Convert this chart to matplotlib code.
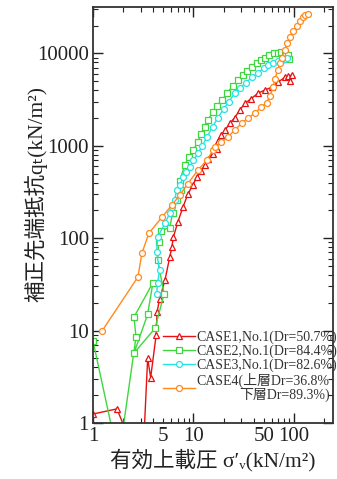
import numpy as np
import matplotlib
matplotlib.use("Agg")
import matplotlib.pyplot as plt
from matplotlib.ticker import FixedLocator, FixedFormatter, LogLocator, NullFormatter

plt.rcParams["font.family"] = ["Liberation Serif", "Noto Sans CJK JP", "DejaVu Sans"]

# effective overburden pressure (kN/m2) and corrected tip resistance qt (kN/m2)
case1_sv = [1.0, 1.73, 3.1, 3.5, 3.75, 4.25, 4.35, 4.6, 5.2, 5.8, 6.1, 6.3, 7.0, 7.9, 8.8, 9.9,
            10.8, 12.0, 13.0, 14.0, 15.5, 17.0, 17.5, 19.0, 20.6, 23.0, 25.8, 29.0, 32.6, 37.0,
            43.9, 51.0, 60.0, 70.0, 81.0, 88.0, 95.0, 92.0]
case1_qt = [1.25, 1.42, 0.3, 5.0, 3.1, 8.9, 16, 22, 35, 62, 80, 102, 150, 220, 300, 380,
            455, 540, 620, 720, 820, 930, 1140, 1300, 1470, 1750, 2020, 2450, 2870, 3200,
            3700, 4000, 4300, 4900, 5500, 5700, 5800, 5000]

case2_sv = [1.0, 1.8, 2.68, 2.56, 3.95, 3.5, 2.56, 4.15, 5.1, 4.4, 4.5, 4.7, 5.8, 6.2, 6.9, 7.5,
            7.3, 8.2, 9.0, 10.0, 11.0, 12.0, 13.0, 13.9, 15.5, 17.0, 19.2, 21.5, 24.5, 27.7,
            31.0, 34.5, 38.4, 43.0, 47.0, 51.4, 57.0, 63.0, 69.0, 75.0, 81.0, 87.0, 89.0]
case2_qt = [7.7, 0.4, 8.5, 14, 33, 15, 5.7, 10.6, 25, 58, 90, 120, 130, 185, 260, 330,
            420, 620, 750, 900, 1100, 1350, 1600, 1900, 2300, 2700, 3100, 3700, 4400, 5100,
            5800, 6400, 7050, 7800, 8400, 9000, 9600, 10000, 10200, 10300, 10000, 9600, 8700]

case3_sv = [4.3, 4.4, 4.6, 4.3, 4.4, 5.2, 5.8, 6.1, 6.5, 6.8, 7.3, 7.9, 8.5, 9.2, 10.0, 11.1,
            12.3, 13.6, 15.5, 17.5, 20.0, 22.5, 25.8, 29.0, 33.0, 38.4, 44.0, 50.0, 55.0, 62.0,
            69.0, 76.0, 82.0, 86.0]
case3_qt = [25, 33, 45, 70, 102, 145, 185, 215, 260, 330, 375, 455, 520, 585, 700, 830,
            1000, 1240, 1600, 2020, 2500, 3000, 3700, 4200, 4800, 5500, 6200, 6900, 7400, 7800,
            8200, 8400, 8700, 9000]

case4_sv = [1.23, 2.8, 3.07, 3.6, 4.86, 6.1, 7.3, 8.8, 11.1, 13.6, 15.6, 16.3, 19.0, 22.0, 26.0,
            30.4, 35.0, 41.0, 47.0, 53.8, 58.0, 62.0, 65.0, 69.0, 72.0, 76.0, 81.0, 86.0, 91.0,
            98.0, 107.0, 115.0, 123.0, 130.0, 138.0]
case4_qt = [9.9, 38, 69, 113, 169, 228, 292, 390, 545, 700, 890, 960, 1100, 1240, 1500,
            1760, 2000, 2250, 2600, 2940, 3500, 4300, 5300, 6600, 7800, 9000, 10900, 13000, 14900,
            17500, 19900, 22500, 24600, 25800, 26500]

labels = ["CASE1,No.1(Dr=50.7%)", "CASE2,No.1(Dr=84.4%)", "CASE3,No.1(Dr=82.6%)",
          "CASE4(上層Dr=36.8%\n下層Dr=89.3%)"]
colors = ["#e81010", "#3ed83e", "#22e4e4", "#ff8a1e"]
markers = ["^", "s", "o", "o"]

fig = plt.figure(figsize=(3.37, 4.79), dpi=100)
ax = fig.add_axes([0.276, 0.117, 0.712, 0.868])

series = [(case1_sv, case1_qt), (case2_sv, case2_qt), (case3_sv, case3_qt), (case4_sv, case4_qt)]
for (sv, qt), c, m, lab in zip(series, colors, markers, labels):
    ax.plot(sv, qt, color=c, marker=m, ms=4.3, mfc="white", mec=c, mew=0.9, lw=1.0, label=lab)

ax.set_xscale("log")
ax.set_yscale("log")
ax.set_xlim(1, 245)
ax.set_ylim(1, 10 ** 4.5)

ax.xaxis.set_major_locator(FixedLocator([1, 10, 100]))
ax.xaxis.set_major_formatter(FixedFormatter(["1", "10", "100"]))
xminor = [v * d for d in (1, 10, 100) for v in range(2, 10)]
ax.xaxis.set_minor_locator(FixedLocator(xminor))
ax.xaxis.set_minor_formatter(FixedFormatter(["5" if v == 5 else "50" if v == 50 else "" for v in xminor]))

ax.yaxis.set_major_locator(FixedLocator([1, 10, 100, 1000, 10000]))
ax.yaxis.set_major_formatter(FixedFormatter(["1", "10", "100", "1000", "10000"]))
ax.yaxis.set_minor_locator(LogLocator(base=10, subs=np.arange(2, 10)))
ax.yaxis.set_minor_formatter(NullFormatter())

ax.tick_params(which="both", direction="in", top=True, right=True, labelsize=15, colors="#222222")
ax.tick_params(which="major", length=7, width=1.0, pad=3)
ax.tick_params(which="minor", length=3.5, width=0.8, pad=3)
for s in ax.spines.values():
    s.set_linewidth(1.3)
    s.set_color("#333333")

ax.set_xlabel("有効上載圧 σ′ᵥ(kN/m²)", fontsize=15.5, color="#222222", labelpad=2)
ax.set_ylabel("補正先端抵抗qₜ(kN/m²)", fontsize=15.5, color="#222222")
ax.yaxis.set_label_coords(-0.19, 0.55)

leg = ax.legend(loc="lower left", bbox_to_anchor=(0.27, 0.036), frameon=False, fontsize=10,
                handlelength=2.3, handletextpad=0.1, labelspacing=0.05, borderaxespad=0)
for t in leg.get_texts():
    t.set_multialignment("right")
    t.set_linespacing(1.0)
    t.set_color("#333333")

fig.savefig("out.png", dpi=100)
